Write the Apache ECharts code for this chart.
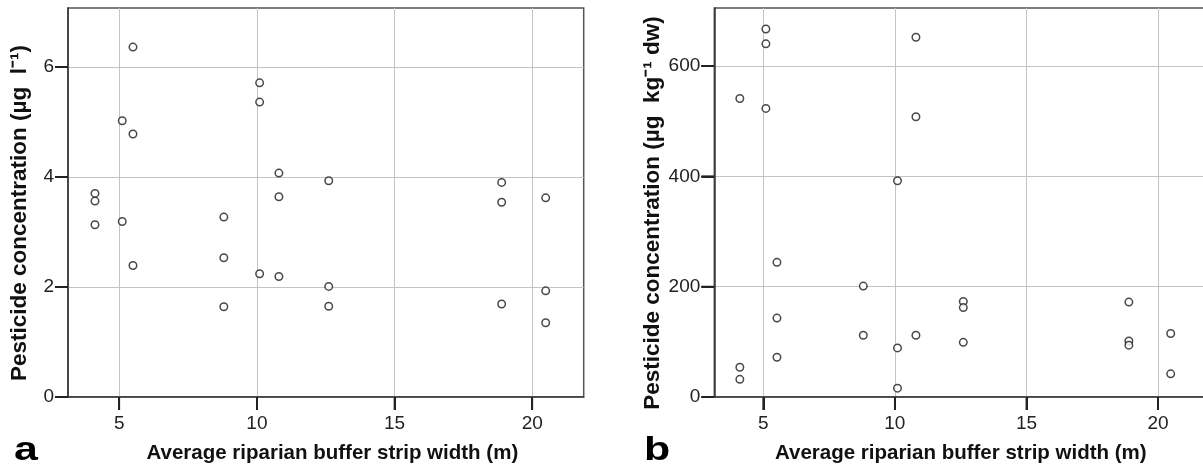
<!DOCTYPE html>
<html>
<head>
<meta charset="utf-8">
<script src="https://cdn.jsdelivr.net/npm/echarts@6/dist/echarts.min.js"></script>
<style>
html,body{margin:0;padding:0;background:#fff;}
#c{width:1203px;height:472px;}
</style>
</head>
<body>
<div id="c"></div>
<script>
// Panel a: water concentrations
const widthA = [4.12,4.12,4.12, 5.11,5.11, 5.50,5.50,5.50, 8.80,8.80,8.80, 10.10,10.10,10.10, 10.80,10.80,10.80, 12.61,12.61,12.61, 18.89,18.89,18.89, 20.49,20.49,20.49];
const concA  = [3.70,3.56,3.13, 5.02,3.19, 6.36,4.78,2.39, 3.27,2.53,1.64, 5.71,5.36,2.24, 4.07,3.64,2.19, 3.93,2.01,1.65, 3.90,3.54,1.69, 3.62,1.93,1.35];
// Panel b: sediment concentrations
const widthB = [4.11,4.11,4.11, 5.10,5.10,5.10, 5.52,5.52,5.52, 8.80,8.80, 10.10,10.10,10.10, 10.80,10.80,10.80, 12.60,12.60,12.60, 18.89,18.89,18.89, 20.48,20.48];
const concB  = [541,54,32, 667,640,523, 244,143,72, 201,112, 392,89,16, 652,508,112, 173,162,99, 172,101.5,94, 115,42];

const xTicks = [5, 10, 15, 20];
const yTicksA = [0, 2, 4, 6];
const yTicksB = [0, 200, 400, 600];
const xName = 'Average riparian buffer strip width (m)';
const yNameA = 'Pesticide concentration (µg  l⁻¹)';
const yNameB = 'Pesticide concentration (µg  kg⁻¹ dw)';
const X_MIN = 3.14, X_MAX = 21.87;

const FONT = 'Liberation Sans, Arial, Helvetica, sans-serif';
const TICK_LEN = 13;
const TICK_COLOR = '#222';

function xAxis(gi, pad) {
  return {
    type: 'value', gridIndex: gi, min: X_MIN, max: X_MAX,
    name: xName, nameLocation: 'middle', nameGap: 46,
    nameTextStyle: {fontSize: 20.5, fontWeight: 'bold', fontFamily: FONT, color: '#111', padding: pad},
    axisLine: {show: true, lineStyle: {color: '#333', width: 1.5}},
    axisTick: {show: true, length: TICK_LEN, customValues: xTicks, lineStyle: {color: TICK_COLOR, width: 2}},
    axisLabel: {customValues: xTicks, fontSize: 19, fontFamily: FONT, color: '#222', margin: 17},
    splitLine: {show: true, lineStyle: {color: '#c4c4c4', width: 1}}
  };
}
function yAxis(gi, max, ticks, name) {
  return {
    type: 'value', gridIndex: gi, min: 0, max: max,
    name: name, nameLocation: 'middle', nameGap: 37, nameRotate: 90,
    nameTextStyle: {fontSize: 22.5, fontWeight: 'bold', fontFamily: FONT, color: '#111', padding: [0, 21, 0, 0]},
    axisLine: {show: true, lineStyle: {color: '#333', width: 1.5}},
    axisTick: {show: true, length: TICK_LEN, customValues: ticks, lineStyle: {color: TICK_COLOR, width: 2}},
    axisLabel: {customValues: ticks, fontSize: 19, fontFamily: FONT, color: '#222', margin: 14},
    splitLine: {show: true, lineStyle: {color: '#c4c4c4', width: 1}}
  };
}
function pts(xs, ys) { return xs.map((x, i) => [x, ys[i]]); }

const markerStyle = {color: '#fff', borderColor: '#1a1a1a', borderWidth: 1.5};
const panelLabels = [
  {type: 'text', left: 14, top: 434, scaleX: 1.3, style: {text: 'a', font: 'bold 33px ' + FONT, fill: '#000'}},
  {type: 'text', left: 644, top: 434, scaleX: 1.3, style: {text: 'b', font: 'bold 33px ' + FONT, fill: '#000'}}
];

const chart = echarts.init(document.getElementById('c'), null, {renderer: 'canvas'});
chart.setOption({
  animation: false,
  grid: [
    {left: 68, top: 8, width: 515.7, height: 389, outerBoundsMode: 'none', show: true, borderColor: '#555', borderWidth: 1.5},
    {left: 714.3, top: 8, width: 493, height: 389, outerBoundsMode: 'none', show: true, borderColor: '#555', borderWidth: 1.5}
  ],
  xAxis: [xAxis(0, [0, 0, 0, 13]), xAxis(1, 0)],
  yAxis: [yAxis(0, 7.07, yTicksA, yNameA), yAxis(1, 705, yTicksB, yNameB)],
  series: [
    {type: 'scatter', xAxisIndex: 0, yAxisIndex: 0, data: pts(widthA, concA), symbol: 'circle', symbolSize: 7.5, itemStyle: markerStyle},
    {type: 'scatter', xAxisIndex: 1, yAxisIndex: 1, data: pts(widthB, concB), symbol: 'circle', symbolSize: 7.5, itemStyle: markerStyle}
  ],
  graphic: panelLabels
});

// Outward tick marks as thin filled rects, placed through the chart's own axis scales
try {
  const els = panelLabels.slice();
  [[0, yTicksA], [1, yTicksB]].forEach(function (pair) {
    const gi = pair[0], yt = pair[1];
    xTicks.forEach(function (v) {
      const p = chart.convertToPixel({gridIndex: gi}, [v, 0]);
      els.push({type: 'rect', shape: {x: p[0] - 0.9, y: p[1], width: 1.8, height: TICK_LEN}, style: {fill: TICK_COLOR}});
    });
    yt.forEach(function (v) {
      const p = chart.convertToPixel({gridIndex: gi}, [X_MIN, v]);
      els.push({type: 'rect', shape: {x: p[0] - TICK_LEN, y: p[1] - 0.9, width: TICK_LEN, height: 1.8}, style: {fill: TICK_COLOR}});
    });
  });
  chart.setOption({graphic: els});
} catch (e) {}
</script>
</body>
</html>
